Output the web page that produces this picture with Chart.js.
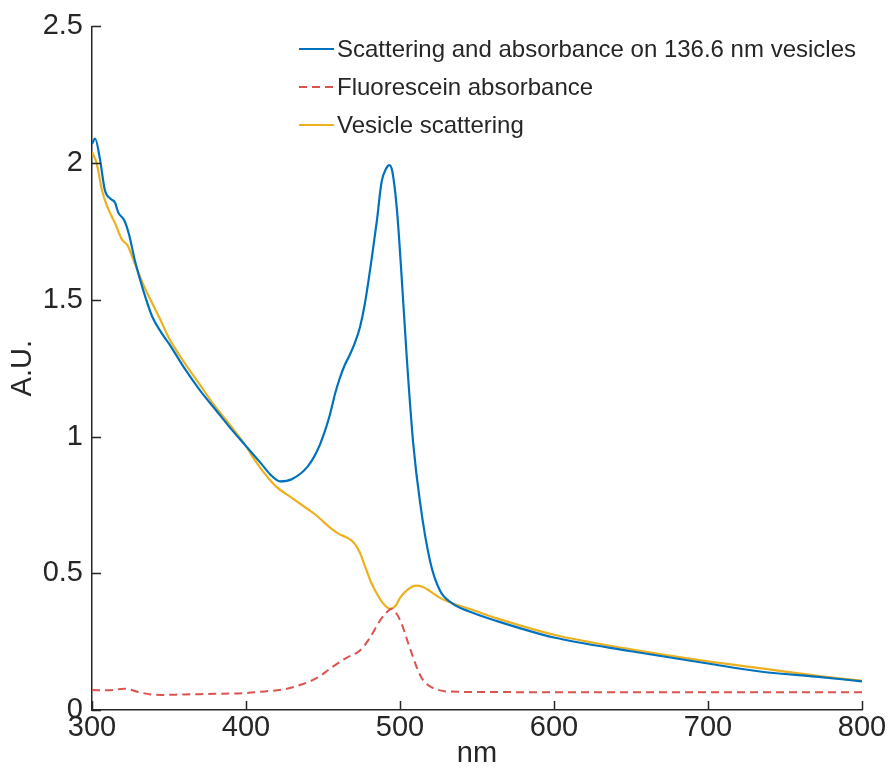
<!DOCTYPE html>
<html>
<head>
<meta charset="utf-8">
<script src="https://cdn.jsdelivr.net/npm/chart.js@4.4.0/dist/chart.umd.min.js"></script>
<style>
  html, body { margin: 0; padding: 0; background: #ffffff; }
  #wrap { width: 888px; height: 771px; position: relative; }
</style>
</head>
<body>
<div id="wrap"><canvas id="c" width="888" height="771"></canvas></div>
<script>
// ---- data ----
const seriesLabels = [
  "Scattering and absorbance on 136.6 nm vesicles",
  "Fluorescein absorbance",
  "Vesicle scattering"
];
const xTickValues = [300, 400, 500, 600, 700, 800];
const yTickValues = [0, 0.5, 1, 1.5, 2, 2.5];

const blueX = [300,302,305,308.4,312,315,317,321,324,328,333,339,345,350,360,370,380,390,400,410,416,422,430,440,446,450,454.5,458,461,464,467.5,470.5,474,477,481.6,485,488,491,493,495,498,501,504.5,508.5,513,519.5,526,534,545,563,600,650,700,735,770,800];
const blueY = [2.07,2.09,2.02,1.90,1.87,1.855,1.82,1.79,1.74,1.64,1.54,1.44,1.38,1.34,1.25,1.17,1.10,1.03,0.965,0.90,0.86,0.836,0.845,0.89,0.945,1.0,1.08,1.16,1.215,1.26,1.30,1.34,1.40,1.48,1.65,1.79,1.93,1.98,1.993,1.97,1.83,1.59,1.28,0.98,0.76,0.545,0.436,0.39,0.36,0.325,0.265,0.215,0.17,0.14,0.122,0.105];

const redX = [300,310,321,330,338,345,360,380,399,412,425,437,447,455,465,474,480,487,491,494.5,498,501,505,508.5,512,515,519,524,530,550,600,700,800];
const redY = [0.073,0.072,0.078,0.066,0.057,0.055,0.057,0.059,0.062,0.068,0.076,0.095,0.12,0.153,0.19,0.218,0.26,0.327,0.355,0.37,0.35,0.316,0.25,0.193,0.14,0.109,0.088,0.075,0.068,0.066,0.065,0.065,0.065];

const yellowX = [300,303,306.5,310,315,319.5,323,328,333,338,345,350,360,370,380,390,400,405,410,415,420,430,440,445,450,455,460,465,468,471,474,477,481,485,489,493.5,497,500,505,510,515,519.5,526,534,545,563,600,650,700,735,770,800];
const yellowY = [2.04,2.00,1.90,1.84,1.78,1.72,1.70,1.63,1.56,1.50,1.42,1.36,1.27,1.19,1.11,1.04,0.965,0.92,0.88,0.845,0.815,0.775,0.735,0.715,0.69,0.665,0.645,0.632,0.622,0.605,0.575,0.53,0.47,0.425,0.39,0.37,0.38,0.41,0.44,0.455,0.45,0.435,0.41,0.39,0.37,0.335,0.275,0.222,0.178,0.152,0.126,0.107];

const toPts = (xs, ys) => xs.map((x, i) => ({ x: x, y: ys[i] }));

const FONT = "'Liberation Sans', Arial, Helvetica, sans-serif";
const TXT = '#262626';

// inward ticks + custom legend
const decor = {
  id: 'decor',
  afterDraw(chart) {
    const ctx = chart.ctx;
    const xs = chart.scales.x, ys = chart.scales.y;
    const a = chart.chartArea;
    ctx.save();
    ctx.strokeStyle = TXT;
    ctx.lineWidth = 1.5;
    ctx.beginPath();
    xTickValues.forEach(v => {
      const px = Math.round(xs.getPixelForValue(v)) + 0.5;
      ctx.moveTo(px, a.bottom); ctx.lineTo(px, a.bottom - 9);
    });
    yTickValues.forEach(v => {
      const py = Math.round(ys.getPixelForValue(v)) + 0.5;
      ctx.moveTo(a.left, py); ctx.lineTo(a.left + 9, py);
    });
    ctx.stroke();

    // legend
    const lx0 = 299, lx1 = 334, tx = 337;
    const rows = [49, 87, 125];
    ctx.font = "24px " + FONT;
    ctx.textBaseline = 'middle';
    ctx.textAlign = 'left';
    [0, 1, 2].forEach((di, r) => {
      const ds = chart.data.datasets[di];
      ctx.beginPath();
      ctx.strokeStyle = ds.borderColor;
      ctx.lineWidth = 2;
      ctx.setLineDash(ds.borderDash || []);
      ctx.moveTo(lx0, rows[r]); ctx.lineTo(lx1, rows[r]);
      ctx.stroke();
      ctx.setLineDash([]);
      ctx.fillStyle = TXT;
      ctx.fillText(ds.label, tx, rows[r] + 1);
    });
    ctx.restore();
  }
};

new Chart(document.getElementById('c'), {
  type: 'line',
  data: {
    datasets: [
      { label: seriesLabels[0], data: toPts(blueX, blueY), borderColor: '#0072BD', borderWidth: 2.2, pointRadius: 0, fill: false, cubicInterpolationMode: 'monotone' },
      { label: seriesLabels[1], data: toPts(redX, redY), borderColor: '#d9534f', borderWidth: 2, borderDash: [8, 5], pointRadius: 0, fill: false, cubicInterpolationMode: 'monotone' },
      { label: seriesLabels[2], data: toPts(yellowX, yellowY), borderColor: '#EDB120', borderWidth: 2.2, pointRadius: 0, fill: false, cubicInterpolationMode: 'monotone' }
    ]
  },
  options: {
    responsive: false,
    animation: false,
    layout: { padding: { top: 22, right: 26, left: 0, bottom: 0 } },
    plugins: { legend: { display: false }, tooltip: { enabled: false } },
    scales: {
      x: {
        type: 'linear', min: 300, max: 800,
        afterBuildTicks: s => { s.ticks = xTickValues.map(v => ({ value: v })); },
        afterFit: s => { s.height = 61; },
        ticks: { color: TXT, font: { family: FONT, size: 29 }, padding: 1, maxRotation: 0, callback: v => String(v) },
        grid: { display: true, drawOnChartArea: false, drawTicks: false, color: 'rgba(0,0,0,0)' },
        border: { display: true, color: TXT, width: 1.5 },
        title: { display: true, text: 'nm', color: TXT, font: { family: FONT, size: 29 }, padding: { top: -4, bottom: 0 } }
      },
      y: {
        type: 'linear', min: 0, max: 2.5,
        afterBuildTicks: s => { s.ticks = yTickValues.map(v => ({ value: v })); },
        afterFit: s => { s.width = 92; },
        ticks: { color: TXT, font: { family: FONT, size: 29 }, padding: 9, callback: v => String(v) },
        grid: { display: true, drawOnChartArea: false, drawTicks: false, color: 'rgba(0,0,0,0)' },
        border: { display: true, color: TXT, width: 1.5 },
        title: { display: true, text: 'A.U.', color: TXT, font: { family: FONT, size: 29 }, padding: { top: 6, bottom: 0 } }
      }
    }
  },
  plugins: [decor]
});
</script>
</body>
</html>
